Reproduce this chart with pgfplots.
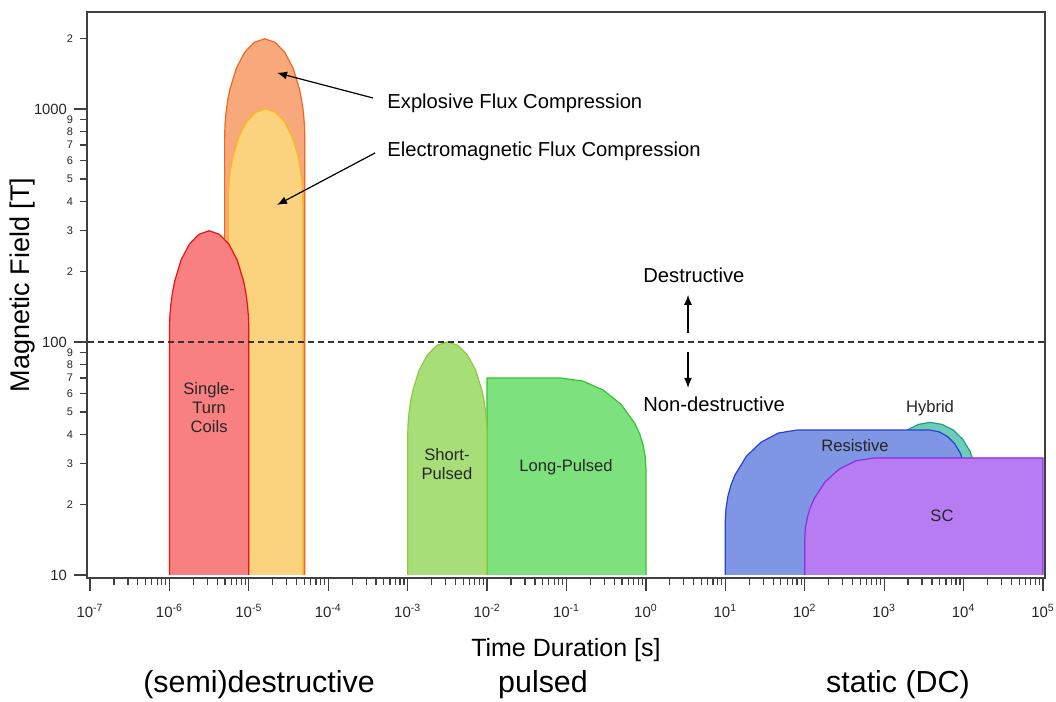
\documentclass[border=0pt]{standalone}
\usepackage{fontspec}
\setmainfont{Liberation Sans}
\usepackage{pgfplots}
\usepackage{pgfplotstable}
\pgfplotsset{compat=1.18}
\usetikzlibrary{arrows.meta}

% axes are in decades: x = log10(t/s), y = log10(B/T)
\definecolor{efcF}{HTML}{F8A97C}\definecolor{efcL}{HTML}{F26522}
\definecolor{emfF}{HTML}{FBD37F}\definecolor{emfL}{HTML}{FDB813}
\definecolor{stcF}{HTML}{F98080}\definecolor{stcL}{HTML}{EE1111}
\definecolor{spF}{HTML}{A8DE78}\definecolor{spL}{HTML}{8CCB3C}
\definecolor{lpF}{HTML}{7DE27D}\definecolor{lpL}{HTML}{33C233}
\definecolor{resF}{HTML}{7F96E4}\definecolor{resL}{HTML}{2A40D6}
\definecolor{hybF}{HTML}{6DCDB8}\definecolor{hybL}{HTML}{20A088}
\definecolor{scF}{HTML}{B77CF2}\definecolor{scL}{HTML}{8E2DE2}

\pgfplotstableread{
x y
-5.305 1
-5.305 2.871
-5.301 2.927
-5.288 2.982
-5.267 3.035
-5.237 3.086
-5.157 3.175
-5.053 3.243
-4.931 3.286
-4.80 3.301
-4.669 3.286
-4.548 3.243
-4.443 3.175
-4.363 3.086
-4.334 3.035
-4.312 2.982
-4.299 2.927
-4.295 2.871
-4.295 1
}\efc
\pgfplotstableread{
x y
-5.26 1
-5.26 2.6
-5.256 2.652
-5.244 2.704
-5.224 2.753
-5.197 2.8
-5.122 2.883
-5.025 2.946
-4.912 2.986
-4.79 3.0
-4.668 2.986
-4.555 2.946
-4.458 2.883
-4.383 2.8
-4.356 2.753
-4.336 2.704
-4.324 2.652
-4.32 2.6
-4.32 1
}\emfc
\pgfplotstableread{
x y
-6 1
-6 2.047
-5.996 2.103
-5.983 2.158
-5.962 2.212
-5.933 2.262
-5.854 2.351
-5.75 2.419
-5.629 2.462
-5.5 2.477
-5.371 2.462
-5.25 2.419
-5.146 2.351
-5.067 2.262
-5.038 2.212
-5.017 2.158
-5.004 2.103
-5 2.047
-5 1
}\stc
\pgfplotstableread{
x y
-3 1
-3 1.59
-2.996 1.644
-2.983 1.696
-2.962 1.747
-2.933 1.795
-2.854 1.880
-2.75 1.945
-2.629 1.986
-2.5 2.0
-2.371 1.986
-2.25 1.945
-2.146 1.880
-2.067 1.795
-2.038 1.747
-2.017 1.696
-2.004 1.644
-2 1.59
-2 1
}\spul
\pgfplotstableread{
x y
-2 1
-2 1.845
-1.07 1.845
-0.793 1.832
-0.535 1.793
-0.313 1.732
-0.143 1.652
-0.081 1.607
-0.036 1.559
-0.009 1.509
0 1.459
0 1
}\lpul
\pgfplotstableread{
x y
3.0 1
3.0 1.405
3.020 1.470
3.078 1.530
3.170 1.582
3.29 1.622
3.430 1.646
3.58 1.655
3.730 1.646
3.87 1.622
3.990 1.582
4.082 1.530
4.140 1.470
4.16 1.405
4.16 1
}\hyb
\pgfplotstableread{
x y
1 1
1 1.236
1.008 1.286
1.031 1.336
1.069 1.384
1.121 1.429
1.264 1.509
1.45 1.570
1.667 1.609
1.9 1.622
3.57 1.622
3.686 1.615
3.795 1.595
3.888 1.563
3.960 1.522
4.005 1.474
4.02 1.422
4.02 1
}\res
\pgfplotstableread{
x y
2 1
2 1.152
2.007 1.198
2.030 1.243
2.066 1.286
2.117 1.327
2.255 1.399
2.435 1.455
2.645 1.490
2.87 1.502
5.0 1.502
5.0 1
}\sc

% minor ticks at 2..9 within every decade
\xdef\mlist{}%
\foreach \d in {-7,...,4}{%
  \foreach \m in {0.30103,0.47712,0.60206,0.69897,0.77815,0.84510,0.90309,0.95424}{%
    \pgfmathsetmacro\v{\d+\m}\xdef\mlist{\mlist\v,}}}%
\xdef\mlist{\mlist 5.30103}

\newcommand\shape[3]{%
  \addplot[fill=#2, draw=none] table {#1};
  \addplot[draw=#3, line width=0.6pt] table {#1};
}

\begin{document}
\begin{tikzpicture}
\useasboundingbox (-43.5pt,-62pt) rectangle (484.5pt,289pt);
\begin{axis}[
  scale only axis, width=479pt, height=283pt,
  xmin=-7.038, xmax=5.025, ymin=0.987, ymax=3.416,
  clip=false, no markers,
  axis line style={black!75, line width=0.8pt},
  tick align=outside, xtick pos=lower, ytick pos=left,
  tick style={black!75, line width=0.6pt},
  major tick length=6.5pt, minor tick length=3.5pt,
  xtick={-7,...,5},
  xticklabels={10\textsuperscript{-7},10\textsuperscript{-6},10\textsuperscript{-5},10\textsuperscript{-4},10\textsuperscript{-3},10\textsuperscript{-2},10\textsuperscript{-1},10\textsuperscript{0},10\textsuperscript{1},10\textsuperscript{2},10\textsuperscript{3},10\textsuperscript{4},10\textsuperscript{5}},
  minor xtick/.expanded=\mlist,
  xticklabel style={font=\fontsize{7.5}{9}\selectfont, text=black!85, yshift=-3pt},
  ytick={1,2,3}, yticklabels={10,100,1000},
  yticklabel style={font=\fontsize{7.4}{9}\selectfont, text=black!85},
  extra y ticks={1.30103,1.47712,1.60206,1.69897,1.77815,1.84510,1.90309,1.95424,2.30103,2.47712,2.60206,2.69897,2.77815,2.84510,2.90309,2.95424,3.30103},
  extra y tick labels={2,3,4,5,6,7,8,9,2,3,4,5,6,7,8,9,2},
  extra y tick style={major tick length=3.5pt, yticklabel style={font=\fontsize{5.5}{6}\selectfont}},
]
\shape{\efc}{efcF}{efcL}
\shape{\emfc}{emfF}{emfL}
\shape{\stc}{stcF}{stcL}
\shape{\lpul}{lpF}{lpL}
\shape{\spul}{spF}{spL}
\shape{\hyb}{hybF}{hybL}
\shape{\res}{resF}{resL}
\shape{\sc}{scF}{scL}

\addplot[black!80, line width=0.6pt, dash pattern=on 3pt off 2pt] coordinates {(-7.02,2) (5.01,2)};

\begin{scope}[font=\fontsize{8.3}{9.5}\selectfont, text=black!85]
\node[align=center] at (-5.5,1.72) {Single-\\Turn\\Coils};
\node[align=center] at (-2.505,1.476) {Short-\\Pulsed};
\node at (-1.007,1.464) {Long-Pulsed};
\node at (2.632,1.554) {Resistive};
\node at (3.577,1.717) {Hybrid};
\node at (3.728,1.253) {SC};
\end{scope}

\begin{scope}[font=\fontsize{10.1}{12}\selectfont, inner sep=0pt]
\node[anchor=base west] at (-3.26,3.004) {Explosive Flux Compression};
\node[anchor=base west] at (-3.26,2.794) {Electromagnetic Flux Compression};
\node[anchor=base west] at (-0.037,2.253) {Destructive};
\node[anchor=base west] at (-0.037,1.700) {Non-destructive};
\end{scope}

\begin{scope}[line width=0.6pt, -{Latex[length=5pt,width=4pt]}]
\draw (-3.437,3.047) -- (-4.645,3.155);
\draw (-3.411,2.811) -- (-4.645,2.588);
\draw (0.530,2.039) -- (0.530,2.202);
\draw (0.530,1.957) -- (0.530,1.803);
\end{scope}

\node[anchor=base, font=\fontsize{12.5}{15}\selectfont] at (-1.007,0.652) {Time Duration [s]};
\node[rotate=90, font=\fontsize{13.5}{16}\selectfont] at (-7.856,2.245) {Magnetic Field [T]};

\begin{scope}[font=\fontsize{15.2}{18}\selectfont]
\node[anchor=base] at (-4.872,0.494) {(semi)destructive};
\node[anchor=base] at (-1.296,0.494) {pulsed};
\node[anchor=base] at (3.174,0.494) {static (DC)};
\end{scope}
\end{axis}
\end{tikzpicture}
\end{document}
